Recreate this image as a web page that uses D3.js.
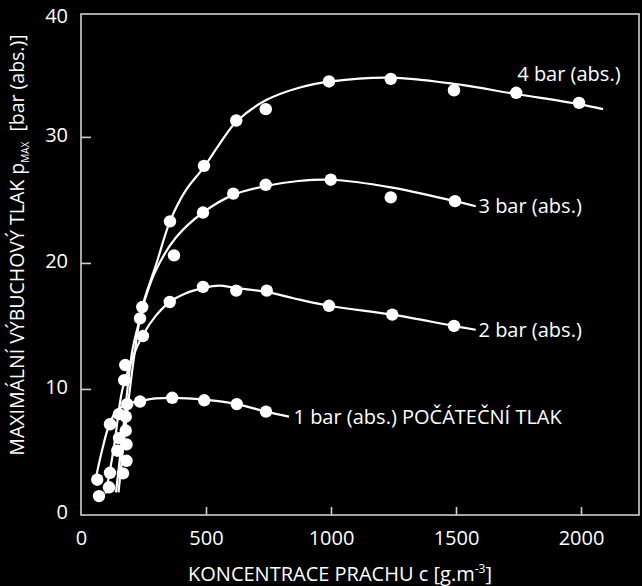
<!DOCTYPE html>
<html>
<head>
<meta charset="utf-8">
<script src="https://cdn.jsdelivr.net/npm/d3@7"></script>
<style>
  html, body { margin: 0; padding: 0; background: #000; }
  svg { display: block; }
  text { font-family: "Open Sans", "Noto Sans", sans-serif; fill: #fff; }
</style>
</head>
<body>
<svg id="chart" width="642" height="586"></svg>
<script>
// ---- data ----
const seriesNames = ["1 bar (abs.) POČÁTEČNÍ TLAK", "2 bar (abs.)", "3 bar (abs.)", "4 bar (abs.)"];

// measured points [concentration g/m3, pmax bar]
const points1 = [[65,2.8],[72,1.5],[116,7.2],[152,8.0],[185,8.8],[236,9.0],[365,9.3],[493,9.1],[623,8.8],[740,8.2]];
const points2 = [[112,2.2],[116,3.35],[145,5.1],[152,6.1],[173,10.7],[248,14.2],[355,16.9],[488,18.1],[621,17.8],[743,17.8],[992,16.6],[1245,15.9],[1492,15.0]];
const points3 = [[168,3.3],[179,6.7],[179,7.8],[182,5.6],[236,15.6],[372,20.6],[488,24.0],[609,25.5],[739,26.2],[999,26.6],[1239,25.2],[1496,24.9]];
const points4 = [[182,4.3],[177,11.9],[245,16.5],[356,23.3],[492,27.7],[621,31.3],[739,32.2],[992,34.4],[1239,34.6],[1492,33.7],[1741,33.5],[1992,32.7]];

// fitted curves as drawn in the picture
const curve1 = [[56,2.6],[85,5.2],[112,7.1],[144,8.3],[199,8.9],[236,9.05],[300,9.25],[365,9.3],[493,9.15],[623,8.8],[740,8.2],[832,7.8]];
const curve2 = [[99,1.7],[132,5.4],[165,9.9],[205,12.4],[248,14.3],[299,15.8],[355,16.9],[420,17.6],[488,18.0],[552,18.2],[621,18.0],[743,17.7],[850,17.2],[992,16.6],[1245,15.9],[1492,15.0],[1579,14.7]];
const curve3 = [[140,1.8],[170,7.0],[205,13.0],[236,15.6],[259,17.3],[299,19.4],[379,22.0],[488,24.0],[609,25.4],[739,26.1],[870,26.5],[999,26.6],[1239,26.0],[1496,24.9],[1579,24.5]];
const curve4 = [[150,1.8],[175,6.5],[212,12.5],[245,16.5],[301,19.9],[356,23.3],[419,25.75],[492,27.6],[560,29.6],[621,31.2],[739,32.9],[872,33.9],[999,34.4],[1239,34.7],[1492,34.2],[1741,33.4],[1992,32.6],[2088,32.2]];

// label anchor positions (data units)
const labelPos = [[850,7.8],[1590,14.7],[1590,24.5],[1745,35.0]];

const xTicks = [0, 500, 1000, 1500, 2000];
const yTicks = [0, 10, 20, 30, 40];

// ---- scales ----
const svg = d3.select("#chart");
const x = d3.scaleLinear().domain([0, 2232]).range([81, 639]);
const y = d3.scaleLinear().domain([0, 39.75]).range([515, 14]);

const axisColor = "#d0d0d0";

// frame
svg.append("rect")
  .attr("x", x(0)).attr("y", y(39.75))
  .attr("width", x(2232) - x(0)).attr("height", y(0) - y(39.75))
  .attr("fill", "none").attr("stroke", axisColor).attr("stroke-width", 1.6);

// y axis
const gy = svg.append("g").attr("transform", `translate(${x(0)},0)`)
  .call(d3.axisLeft(y).tickValues(yTicks).tickSize(-10).tickPadding(13).tickFormat(d3.format("d")));
gy.select(".domain").remove();
gy.selectAll(".tick line").attr("stroke", axisColor).attr("stroke-width", 1.6)
  .attr("display", d => (d === 0 || d === 40) ? "none" : null);
gy.selectAll(".tick text").attr("fill", "#fff").style("font-size", "20px")
  .attr("font-family", null)
  .attr("dy", d => d === 40 ? "0.6em" : (d === 0 ? "0.15em" : "0.25em"));

// x axis
const gx = svg.append("g").attr("transform", `translate(0,${y(0)})`)
  .call(d3.axisBottom(x).tickValues(xTicks).tickSize(-8).tickPadding(16).tickFormat(d3.format("d")));
gx.select(".domain").remove();
gx.selectAll(".tick line").attr("stroke", axisColor).attr("stroke-width", 1.6)
  .attr("display", d => d === 0 ? "none" : null);
gx.selectAll(".tick text").attr("fill", "#fff").style("font-size", "20px")
  .attr("font-family", null);

// axis titles
const xt = svg.append("text").attr("x", 340).attr("y", 581)
  .attr("text-anchor", "middle").style("font-size", "20px");
xt.append("tspan").text("KONCENTRACE PRACHU c [g.m");
xt.append("tspan").attr("dy", -8).style("font-size", "12px").text("-3");
xt.append("tspan").attr("dy", 8).text("]");

const yt = svg.append("text")
  .attr("transform", "translate(24,245) rotate(-90)")
  .attr("text-anchor", "middle").style("font-size", "19.5px");
yt.append("tspan").text("MAXIMÁLNÍ VÝBUCHOVÝ TLAK p");
yt.append("tspan").attr("dy", 5).style("font-size", "10px").text("MAX");
yt.append("tspan").attr("dy", -5).text("\u00a0\u00a0[bar (abs.)]");

// curves
const line = d3.line().x(d => x(d[0])).y(d => y(d[1])).curve(d3.curveCatmullRom.alpha(0.5));
[curve1, curve2, curve3, curve4].forEach(c => {
  svg.append("path").attr("d", line(c))
    .attr("fill", "none").attr("stroke", "#fff").attr("stroke-width", 2.2);
});

// points
[points1, points2, points3, points4].forEach(ps => {
  svg.append("g").selectAll("circle").data(ps).join("circle")
    .attr("cx", d => x(d[0])).attr("cy", d => y(d[1])).attr("r", 6.2)
    .attr("fill", "#fff");
});

// series labels
seriesNames.forEach((name, i) => {
  svg.append("text")
    .attr("x", x(labelPos[i][0])).attr("y", y(labelPos[i][1]))
    .attr("dy", "0.35em")
    .style("font-size", "20px")
    .text(name);
});
</script>
</body>
</html>
